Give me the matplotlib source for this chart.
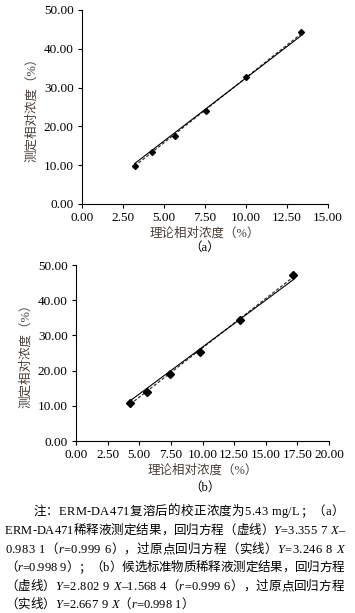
import matplotlib
matplotlib.use("Agg")
import matplotlib.pyplot as plt
import numpy as np

# ---- data ----
xa = [3.21, 4.29, 5.65, 7.58, 10.02, 13.37]
ya = [9.9, 13.5, 17.5, 24.0, 32.7, 44.3]
xb = [4.29, 5.62, 7.47, 9.80, 12.97, 17.18]
yb = [10.7, 14.0, 19.0, 25.4, 34.4, 47.2]
fit_a = (3.3557, -0.9831)
orig_a = 3.2468
fit_b = (2.8029, -1.5684)
orig_b = 2.6679
xticks_a = [0, 2.5, 5, 7.5, 10, 12.5, 15]
xticks_b = [0, 2.5, 5, 7.5, 10, 12.5, 15, 17.5, 20]
yticks = [0, 10, 20, 30, 40, 50]
xlabel = "理论相对浓度（%）"
ylabel = "测定相对浓度（%）"

FAM = ['Liberation Serif', 'Noto Sans CJK SC']
plt.rcParams['font.family'] = FAM
plt.rcParams['axes.unicode_minus'] = False

W, H = 355, 613
fig = plt.figure(figsize=(W / 100, H / 100), dpi=100)

def px_axes(l, t, r, b):
    return fig.add_axes([l / W, 1 - b / H, (r - l) / W, (b - t) / H])

labcol = '#4a3f36'

def panel(ax, x, y, fit, orig, xt, ms):
    xs = np.array([min(x), max(x)])
    ax.plot(xs, fit[0] * xs + fit[1], color='#333333', lw=0.9, ls=(0, (2.5, 1.5)))
    ax.plot(xs, orig * xs, color='black', lw=0.8)
    ax.plot(x, y, ls='none', marker='D', ms=ms, color='black', mec='black')
    ax.set_xlim(xt[0], xt[-1])
    ax.set_ylim(0, 50)
    ax.set_xticks(xt)
    ax.set_xticklabels([f"{v:.2f}" for v in xt])
    ax.set_yticks(yticks)
    ax.set_yticklabels([f"{v:.2f}" for v in yticks])
    for s in ['top', 'right']:
        ax.spines[s].set_visible(False)
    for s in ['left', 'bottom']:
        ax.spines[s].set_linewidth(0.8)
    ax.tick_params(direction='out', length=3, width=0.8, labelsize=9.5, pad=3)
    ax.set_xlabel(xlabel, fontsize=9, color=labcol, labelpad=2)
    ax.set_ylabel(ylabel, fontsize=9, color=labcol, labelpad=4)

axa = px_axes(82, 10, 328, 204)
panel(axa, xa, ya, fit_a, orig_a, xticks_a, 3.0)
axb = px_axes(76, 265, 329, 441)
panel(axb, xb, yb, fit_b, orig_b, xticks_b, 4.2)

fig.text(205 / W, 1 - 248 / H, "（a）", ha='center', va='center', fontsize=9)
fig.text(205 / W, 1 - 488 / H, "（b）", ha='center', va='center', fontsize=9)

renderer = fig.canvas.get_renderer()

def draw_line(ypx, segs, x0px, x1px=None, fs=9):
    # split normal segments into characters so spacing can be distributed
    pieces = []
    for s, it in segs:
        if it:
            pieces.append((s, it))
        else:
            pieces.extend((c, False) for c in s)
    texts = []
    x = x0px
    space_w = fs * 100 / 72 * 0.3
    for s, it in pieces:
        t = fig.text(x / W, 1 - ypx / H, s, fontsize=fs, va='center', ha='left',
                     style='italic' if it else 'normal', family=FAM)
        w = t.get_window_extent(renderer).width if s.strip() else space_w
        texts.append((t, w))
        x += w
    if x1px is not None and len(texts) > 1:
        extra = (x1px - x) / (len(texts) - 1)
        xx = x0px
        for t, w in texts:
            t.set_x(xx / W)
            xx += w + extra

lines = [
    (512, 33, 344, [("注：ERM-DA471复溶后的校正浓度为5.43 mg/L；（a）", False)]),
    (531, 5, 344, [("ERM-DA471稀释液测定结果，回归方程（虚线）", False), ("Y", True),
                   ("=3.355 7 ", False), ("X", True), ("–", False)]),
    (550, 5, 344, [("0.983 1（", False), ("r", True), ("=0.999 6），过原点回归方程（实线）", False),
                   ("Y", True), ("=3.246 8 ", False), ("X", True)]),
    (568, 5, 344, [("（", False), ("r", True), ("=0.998 9）；（b）候选标准物质稀释液测定结果，回归方程", False)]),
    (587, 5, 344, [("（虚线）", False), ("Y", True), ("=2.802 9 ", False), ("X", True),
                   ("–1.568 4（", False), ("r", True), ("=0.999 6），过原点回归方程", False)]),
    (605, 5, None, [("（实线）", False), ("Y", True), ("=2.667 9 ", False), ("X", True),
                    ("（", False), ("r", True), ("=0.998 1）", False)]),
]
for ypx, x0, x1, segs in lines:
    draw_line(ypx, segs, x0, x1)

fig.savefig("out.png", dpi=100)
